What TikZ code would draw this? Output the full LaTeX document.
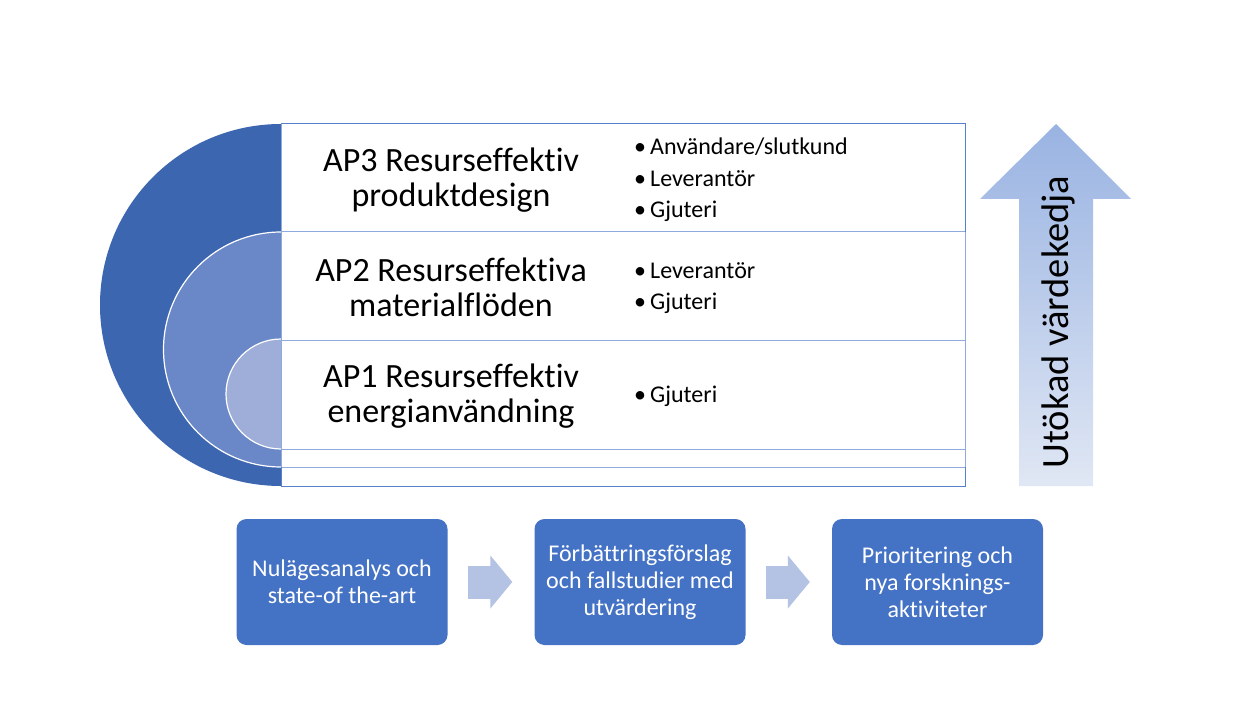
\documentclass[tikz,border=0pt]{standalone}
\usepackage{fontspec}
\setmainfont{Carlito}[Ligatures=NoCommon]
\usetikzlibrary{arrows.meta}
\definecolor{apdark}{HTML}{3D66B0}
\definecolor{apmid}{HTML}{6A88C7}
\definecolor{aplight}{HTML}{9FAED9}
\definecolor{boxblue}{HTML}{4472C4}
\definecolor{rowline}{HTML}{8FAADC}
\definecolor{chevron}{HTML}{B4C2E3}
\definecolor{arrtop}{HTML}{99B3E2}
\definecolor{arrbot}{HTML}{E0E7F4}
\newcommand{\bul}[1]{\makebox[16pt][l]{\textbullet}#1}

\tikzset{
  aptitle/.style={align=center,inner sep=0pt,font=\fontsize{34}{35}\selectfont},
  aplist/.style={align=left,anchor=west,inner sep=0pt,font=\fontsize{24}{31.5}\selectfont},
  stepbox/.style={fill=boxblue,rounded corners=10pt,minimum width=211pt,minimum height=126pt,
    inner sep=0pt,text=white,align=center,font=\fontsize{24}{27}\selectfont},
  flowarrow/.style={chevron,line width=33pt,shorten <=20pt,shorten >=22pt,
    -{Triangle[length=22pt,width=52pt]}}
}

\begin{document}
\begin{tikzpicture}[x=1pt,y=-1pt]
\useasboundingbox (0,0) rectangle (1253,703);
% nested half circles
\fill[apdark] (281,305) circle (181);
\filldraw[apmid,draw=white,line width=1.2pt] (281,349.5) circle (117.5);
\filldraw[aplight,draw=white,line width=1.2pt] (281,394) circle (55);
% rows
\foreach \ytop/\ybot in {124/232,232/340,340/449,449/467,467/486}
  \draw[rowline,fill=white,line width=1pt] (281,\ytop) rectangle (965,\ybot);
\draw[boxblue!90,line width=1pt] (281,124) -- (965,124) -- (965,232);
\draw[boxblue!90,line width=1pt] (281,467) -- (281,486) -- (965,486) -- (965,467);
\node[aptitle] (ap3) at (451,180) {AP3 Resurseffektiv\\produktdesign};
\node[aptitle] (ap2) at (451,287) {AP2 Resurseffektiva\\materialflöden};
\node[aptitle] (ap1) at (451,396) {AP1 Resurseffektiv\\energianvändning};
\node[aplist] (ap3list) at (634,180) {\bul{Användare/slutkund}\\\bul{Leverantör}\\\bul{Gjuteri}};
\node[aplist] (ap2list) at (634,288) {\bul{Leverantör}\\\bul{Gjuteri}};
\node[aplist] (ap1list) at (634,396) {\bul{Gjuteri}};
% value chain arrow
\shade[top color=arrtop,bottom color=arrbot] (1019,486) -- (1019,199) -- (980,199) -- (1056,124)
  -- (1131,199) -- (1093,199) -- (1093,486) -- cycle;
\node[rotate=90,font=\fontsize{38.5}{40}\selectfont] (chain) at (1058,322) {Utökad värdekedja};
% work steps
\node[stepbox] (s1) at (342,582) {Nulägesanalys och\\state-of the-art};
\node[stepbox] (s2) at (640,582) {Förbättringsförslag\\och fallstudier med\\utvärdering};
\node[stepbox] (s3) at (937.5,582) {Prioritering och\\nya forsknings-\\aktiviteter};
\draw[flowarrow] (s1) -- (s2);
\draw[flowarrow] (s2) -- (s3);
\end{tikzpicture}
\end{document}
